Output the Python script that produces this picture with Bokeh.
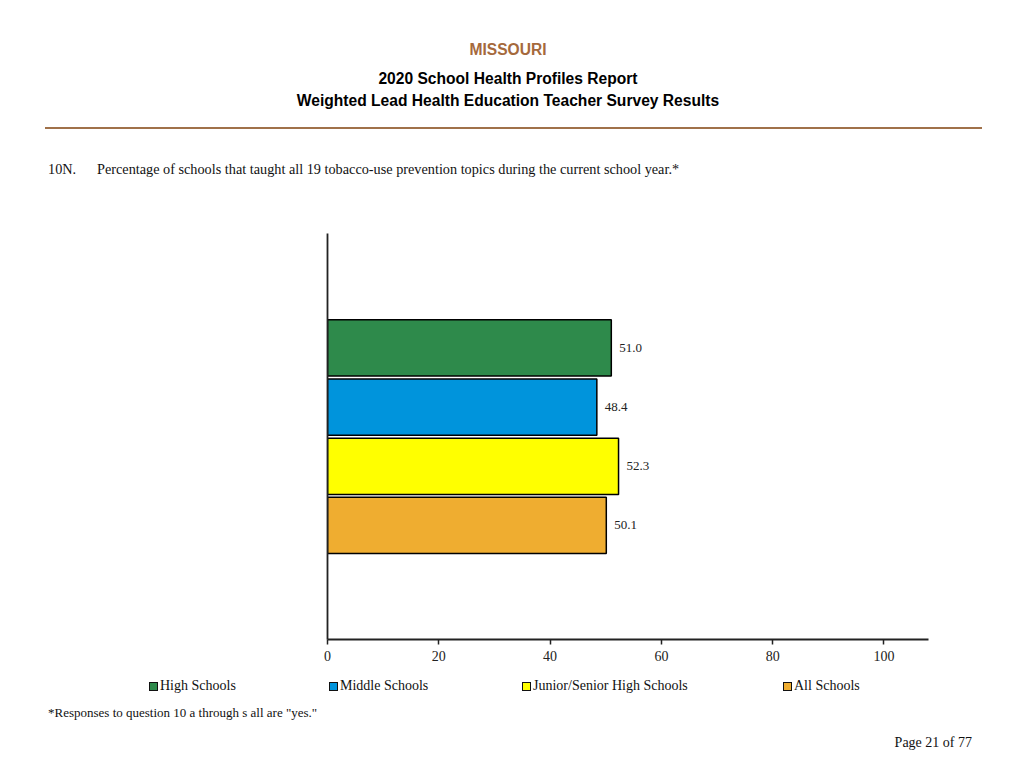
from bokeh.plotting import figure
from bokeh.layouts import column
from bokeh.models import (Range1d, ColumnDataSource, FixedTicker, LabelSet, Div)
from bokeh.core.properties import value
from bokeh.embed import file_html
from bokeh.resources import INLINE

# ---- data ----
categories = ["High Schools", "Middle Schools", "Junior/Senior High Schools", "All Schools"]
values = [51.0, 48.4, 52.3, 50.1]
colors = ["#2E8A4B", "#0094DC", "#FFFF00", "#EFAD30"]
x_ticks = [0, 20, 40, 60, 80, 100]

title_state = "MISSOURI"
title_1 = "2020 School Health Profiles Report"
title_2 = "Weighted Lead Health Education Teacher Survey Results"
q_num = "10N."
q_text = "Percentage of schools that taught all 19 tobacco-use prevention topics during the current school year.*"
footnote = "*Responses to question 10 a through s all are \"yes.\""
page_text = "Page 21 of 77"

# legend item left edges on the page (layout)
legend_left = [149, 329, 522, 783]

SERIF = "Liberation Serif"
SANS = "Liberation Sans"
W = 1016
CH_TOP, CH_BOT, PAGE_H = 225, 675, 760


def span(text, cy, fs, family, left=None, right=None, center=False, color="#111111",
         weight="normal"):
    top = cy - 0.575 * fs
    pos = "top:%.1fpx;" % top
    if center:
        pos += "left:0px;width:%dpx;text-align:center;" % W
    elif right is not None:
        pos += "right:%dpx;text-align:right;" % (W - right)
    else:
        pos += "left:%dpx;" % left
    return ('<span style="position:absolute;%s white-space:nowrap;font-family:\'%s\';'
            'font-size:%.2fpx;line-height:1.15;color:%s;font-weight:%s;">%s</span>'
            % (pos, family, fs, color, weight, text))


def box(h, inner):
    return ('<div style="position:relative;width:%dpx;height:%dpx;margin:0;padding:0;">%s</div>'
            % (W, h, inner))


head_html = box(CH_TOP, "".join([
    span(title_state, 50, 15.6, SANS, center=True, color="#A5693C", weight="bold"),
    span(title_1, 78.5, 15.6, SANS, center=True, color="#000000", weight="bold"),
    span(title_2, 100.5, 15.6, SANS, center=True, color="#000000", weight="bold"),
    '<div style="position:absolute;left:45px;top:127px;width:937px;height:2px;'
    'background:#A0714A;"></div>',
    span(q_num, 169, 14.25, SERIF, left=48),
    span(q_text, 169, 14.25, SERIF, left=97),
]))
head = Div(text=head_html, width=W, height=CH_TOP, margin=0)

LEG_CY = 686
leg_parts = []
for i, cat in enumerate(categories):
    x0 = legend_left[i]
    leg_parts.append(
        '<div style="position:absolute;box-sizing:border-box;left:%dpx;top:%.1fpx;'
        'width:9px;height:9px;border:1.5px solid #111111;background:%s;"></div>'
        % (x0, LEG_CY - CH_BOT - 4.5, colors[i]))
    leg_parts.append(span(cat, LEG_CY - CH_BOT, 14, SERIF, left=x0 + 11))

foot_html = box(PAGE_H - CH_BOT, "".join(leg_parts + [
    span(footnote, 713 - CH_BOT, 13, SERIF, left=48),
    span(page_text, 743 - CH_BOT, 14, SERIF, right=972),
]))
foot = Div(text=foot_html, width=W, height=PAGE_H - CH_BOT, margin=0)

# ---- chart ----
FL, FR, FT, FB = 327, 928, 233, 639
n = len(categories)
ypos = [n - i for i in range(n)]
source = ColumnDataSource(dict(y=ypos, v=values, c=colors, cat=categories,
                               lab=["%.1f" % v for v in values]))

p = figure(width=W, height=CH_BOT - CH_TOP, output_backend="svg", toolbar_location=None,
           x_range=Range1d(0, 108), y_range=Range1d(-0.926, 5.931),
           min_border_left=FL, min_border_right=W - FR,
           min_border_top=FT - CH_TOP, min_border_bottom=CH_BOT - FB, margin=0)
p.outline_line_color = None
p.xgrid.grid_line_color = None
p.ygrid.grid_line_color = None

r = p.hbar(y="y", right="v", left=0, height=0.95, fill_color="c",
           line_color="black", line_width=1.5, source=source)

p.add_layout(LabelSet(x="v", y="y", text="lab", source=source, x_offset=8,
                      text_baseline="middle", text_align="left",
                      text_font=value(SERIF), text_font_size="13px", text_color="#222222"))

xa = p.xaxis[0]
xa.ticker = FixedTicker(ticks=x_ticks)
xa.axis_line_color = "#222222"
xa.axis_line_width = 1.8
xa.major_tick_line_color = "#222222"
xa.major_tick_line_width = 1.5
xa.major_tick_in = 0
xa.major_tick_out = 5
xa.minor_tick_line_color = None
xa.major_label_text_font = SERIF
xa.major_label_text_font_size = "14px"
xa.major_label_text_color = "#222222"
xa.major_label_standoff = 6

ya = p.yaxis[0]
ya.axis_line_color = "#222222"
ya.axis_line_width = 1.8
ya.major_tick_line_color = None
ya.minor_tick_line_color = None
ya.major_label_text_color = None
ya.major_label_text_font_size = "0px"

layout = column(head, p, foot, spacing=0, margin=0)
open("out.html", "w").write(file_html(layout, INLINE))
